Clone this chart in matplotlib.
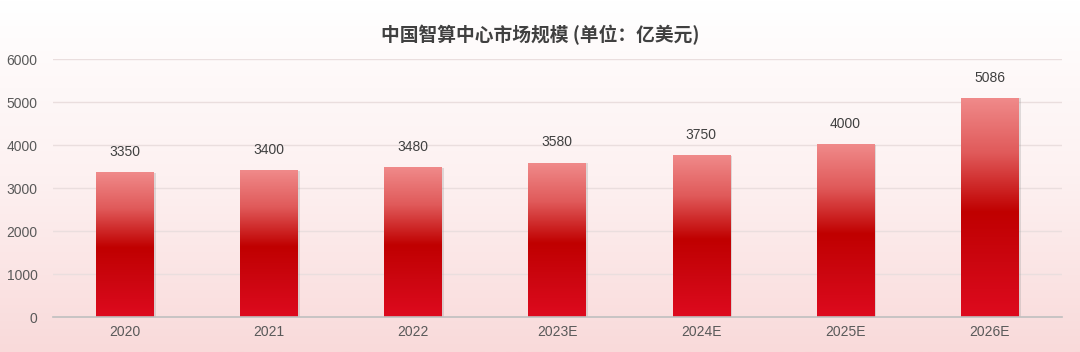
import matplotlib
matplotlib.use("Agg")
import matplotlib.pyplot as plt
import numpy as np
from matplotlib.colors import LinearSegmentedColormap

plt.rcParams['font.family'] = ['Liberation Sans', 'Noto Sans CJK SC', 'DejaVu Sans']

years = ['2020', '2021', '2022', '2023E', '2024E', '2025E', '2026E']
values = [3350, 3400, 3480, 3580, 3750, 4000, 5086]
title = '中国智算中心市场规模 (单位：亿美元)'

fig = plt.figure(figsize=(10.8, 3.52), dpi=100)

# page background: white at top fading to pale pink
bg = fig.add_axes([0, 0, 1, 1], zorder=-10)
bg_cmap = LinearSegmentedColormap.from_list('bg', ['#ffffff', '#fdf1f1', '#f9dada'])
bg.imshow(np.linspace(0, 1, 256).reshape(-1, 1), cmap=bg_cmap, aspect='auto',
          extent=(0, 1, 0, 1), origin='upper')
bg.axis('off')

ax = fig.add_axes([0.049, 0.099, 0.934, 0.733])
ax.patch.set_alpha(0)

bar_cmap = LinearSegmentedColormap.from_list(
    'bar', [(0.0, '#f08a8a'), (0.25, '#e05a5a'), (0.52, '#c00000'),
            (0.75, '#cc0610'), (1.0, '#de0a1e')])
grad = np.linspace(0, 1, 256).reshape(-1, 1)
w = 0.4
x = np.arange(len(years))
for xi, v in zip(x, values):
    # soft shadow
    ax.bar(xi + 0.01, v + 20, width=w + 0.01, bottom=-20, color='#9a9a9a', alpha=0.3, zorder=2)
    ax.imshow(grad, cmap=bar_cmap, aspect='auto', origin='upper',
              extent=(xi - w / 2, xi + w / 2, 0, v), zorder=3)
    ax.annotate(f'{v}', (xi, v), xytext=(0, 10), textcoords='offset points',
                ha='center', va='bottom', fontsize=10, color='#404040')

ax.set_xlim(-0.5, len(years) - 0.5)
ax.set_ylim(0, 6000)
ax.set_yticks(range(0, 6001, 1000))
ax.set_xticks(x)
ax.set_xticklabels(years)
ax.tick_params(length=0, labelsize=10, colors='#595959')
ax.tick_params(axis='y', pad=11)
ax.tick_params(axis='x', pad=6)
ax.grid(axis='y', color='#eadede', linewidth=1)
ax.set_axisbelow(True)
for s in ['top', 'right', 'left']:
    ax.spines[s].set_visible(False)
ax.spines['bottom'].set_color('#bfbfbf')
ax.spines['bottom'].set_linewidth(1.2)
ax.spines['bottom'].set_zorder(5)

fig.text(0.5, 0.9, title, ha='center', va='center', fontsize=13.5,
         fontweight='bold', color='#404040',
         family=['Noto Sans CJK SC', 'DejaVu Sans'])

fig.savefig('out.png', dpi=100)
